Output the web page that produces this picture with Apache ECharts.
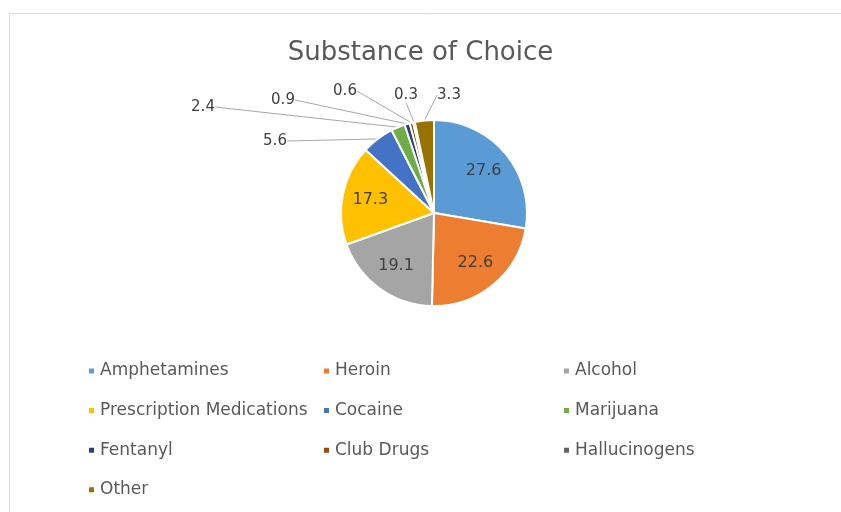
<!DOCTYPE html>
<html>
<head>
<meta charset="utf-8">
<script src="https://cdn.jsdelivr.net/npm/echarts@6/dist/echarts.min.js"></script>
<style>
  html, body { margin: 0; padding: 0; background: #fff; }
  #chart { width: 841px; height: 512px; }
</style>
</head>
<body>
<div id="chart"></div>
<script>
// ---- data ----
const titleText = 'Substance of Choice';
const categories = ['Amphetamines', 'Heroin', 'Alcohol', 'Prescription Medications', 'Cocaine',
  'Marijuana', 'Fentanyl', 'Club Drugs', 'Hallucinogens', 'Other'];
const values = [27.6, 22.6, 19.1, 17.3, 5.6, 2.4, 0.9, 0.6, 0.3, 3.3];

// ---- styles ----
const colors = ['#5B9BD5', '#ED7D31', '#A5A5A5', '#FFC000', '#4472C4',
  '#70AD47', '#264478', '#9E480E', '#636363', '#997300'];
const insideLabel = [true, true, true, true, false, false, false, false, false, false];
// outside label placement, offset from the pie centre (px)
const labelOffsets = [null, null, null, null, [-159, -72], [-231, -106], [-151, -113], [-89, -122], [-28, -118], [15, -118]];
const center = [434, 213];
const FONT = 'DejaVu Sans';

const legendCols = [
  { left: 87, names: [0, 3, 6, 9] },
  { left: 322, names: [1, 4, 7] },
  { left: 562, names: [2, 5, 8] }
];

const chart = echarts.init(document.getElementById('chart'), null, { renderer: 'canvas' });

const mainData = categories.map((c, i) => ({
  name: c,
  value: values[i],
  itemStyle: { color: colors[i] },
  label: { show: !insideLabel[i] },
  labelLine: { show: !insideLabel[i], length2: 0 }
}));
const labelData = categories.map((c, i) => ({
  name: c,
  value: values[i],
  itemStyle: { color: 'rgba(0,0,0,0)', borderWidth: 0 },
  label: { show: insideLabel[i] }
}));

const option = {
  animation: false,
  color: colors,
  graphic: [{
    type: 'rect',
    shape: { x: 9.5, y: 13.5, width: 900, height: 600 },
    style: { fill: 'none', stroke: '#d9d9d9', lineWidth: 1 },
    silent: true, z: -10
  }],
  title: {
    text: titleText,
    left: 'center',
    top: 35,
    textStyle: { fontFamily: FONT, fontSize: 26, fontWeight: 'normal', color: '#595959' }
  },
  legend: legendCols.map(col => ({
    orient: 'vertical',
    left: col.left,
    top: 361,
    padding: 0,
    itemGap: 19.6,
    itemWidth: 7,
    itemHeight: 7,
    icon: 'rect',
    selectedMode: false,
    data: col.names.map(i => categories[i]),
    textStyle: { fontFamily: FONT, fontSize: 17, color: '#595959', lineHeight: 20 }
  })),
  series: [{
    type: 'pie',
    center: center,
    radius: [0, 93],
    startAngle: 90,
    clockwise: true,
    avoidLabelOverlap: false,
    data: mainData,
    itemStyle: { borderColor: '#fff', borderWidth: 2 },
    label: {
      position: 'outside',
      formatter: '{c}',
      fontFamily: FONT, fontSize: 15, color: '#404040'
    },
    labelLine: { lineStyle: { color: '#a6a6a6', width: 1 }, length2: 0 },
    labelLayout: function (p) {
      const off = labelOffsets[p.dataIndex];
      if (!off) return {};
      return { x: center[0] + off[0], y: center[1] + off[1], align: 'center', verticalAlign: 'middle' };
    },
    emphasis: { disabled: true }
  }, {
    type: 'pie',
    center: center,
    radius: [0, 124],
    startAngle: 90,
    clockwise: true,
    silent: true,
    data: labelData,
    label: {
      position: 'inside',
      formatter: '{c}',
      fontFamily: FONT, fontSize: 16, color: '#404040'
    },
    labelLine: { show: false },
    emphasis: { disabled: true }
  }]
};
chart.setOption(option);
</script>
</body>
</html>
